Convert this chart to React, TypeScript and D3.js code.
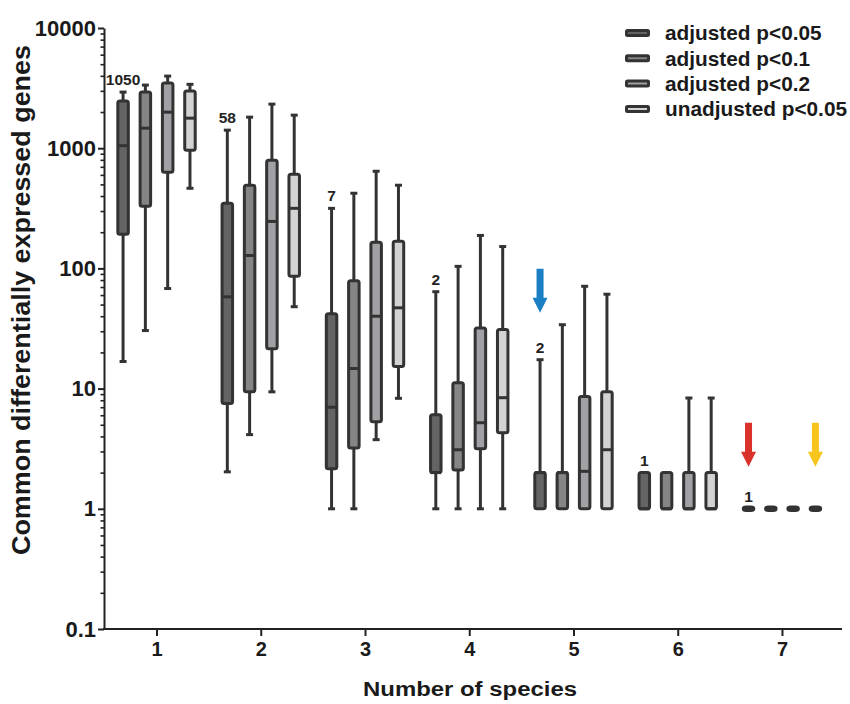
import React, { useEffect, useRef } from "react";
import * as d3 from "d3";

// Number of species sharing the differentially expressed genes
const speciesCounts = [1, 2, 3, 4, 5, 6, 7];

const seriesNames = [
  "adjusted p<0.05",
  "adjusted p<0.1",
  "adjusted p<0.2",
  "unadjusted p<0.05",
];
const seriesFills = ["#646464", "#858585", "#a1a1a5", "#d3d3d3"];

// Gene counts printed above the strictest threshold (also its medians)
const countLabels = [1050, 58, 7, 2, 2, 1, 1];

// Box summaries per species count: [min, q1, median, q3, max]
const adjustedP005 = [
  [16.8, 192, countLabels[0], 2465, 2930],
  [2.03, 7.5, countLabels[1], 348, 1413],
  [1, 2.15, countLabels[2], 42, 316],
  [1, 2, countLabels[3], 6.07, 64],
  [1, 1, countLabels[4], 2, 17.4],
  [1, 1, countLabels[5], 2, 2],
  [1, 1, countLabels[6], 1, 1],
];
const adjustedP01 = [
  [30.4, 329, 1468, 2930, 3350],
  [4.14, 9.4, 128, 492, 1813],
  [1, 3.2, 14.7, 79, 422],
  [1, 2.1, 3.1, 11.2, 104],
  [1, 1, 2, 2, 34],
  [1, 1, 1, 2, 2],
  [1, 1, 1, 1, 1],
];
const adjustedP02 = [
  [68, 631, 1995, 3480, 3980],
  [9.4, 21.5, 246, 794, 2326],
  [3.76, 5.3, 40, 165, 643],
  [1, 3.16, 5.2, 32, 188],
  [1, 1, 2.05, 8.6, 71],
  [1, 1, 1, 2, 8.35],
  [1, 1, 1, 1, 1],
];
const unadjustedP005 = [
  [464, 962, 1778, 2985, 3400],
  [48, 86, 316, 607, 1884],
  [8.3, 15.3, 47, 168, 492],
  [1, 4.3, 8.4, 31, 152],
  [1, 1, 3.1, 9.4, 61],
  [1, 1, 1, 2, 8.35],
  [1, 1, 1, 1, 1],
];
const seriesData = [adjustedP005, adjustedP01, adjustedP02, unadjustedP005];

const yTickValues = [0.1, 1, 10, 100, 1000, 10000];

// Highlight arrows: [species count, series index, colour]
const arrowSpecies = [5, 7, 7];
const arrowSeries = [0, 0, 3];
const arrowColors = ["#1b7fc4", "#d8322b", "#f7c51d"];

const FONT = "'Liberation Sans', Arial, Helvetica, sans-serif";
const INK = "#333333";

export default function App() {
  const ref = useRef<SVGSVGElement>(null);

  useEffect(() => {
    const svg = d3.select(ref.current);
    svg.selectAll("*").remove();

    const x = d3.scaleLinear().domain([0.5, 7.5]).range([104.4, 834.1]);
    const inner = d3
      .scaleBand<number>()
      .domain(d3.range(seriesNames.length))
      .range([-44.6, 44.6]);
    const y = d3.scaleLog().domain([0.1, 10000]).range([629, 28]);
    const cx = (s: number, i: number) =>
      x(s) + (inner(i) as number) + inner.bandwidth() / 2;

    const boxW = 10.5;
    const capW = 7;
    const minBoxH = 3.5;

    // Y axis: major ticks with labels, minor ticks without
    const minor = y.ticks().filter((v) => !yTickValues.includes(v));
    const yMinor = svg.append("g").attr("transform", "translate(104,0)");
    yMinor.call(
      d3.axisLeft(y).tickValues(minor).tickSize(3.5).tickSizeOuter(0).tickFormat(() => "")
    );
    yMinor.select(".domain").remove();
    yMinor.selectAll("line").attr("stroke", "#222").attr("stroke-width", 1.6);

    const yAxis = svg.append("g").attr("transform", "translate(104,0)");
    yAxis.call(
      d3
        .axisLeft(y)
        .tickValues(yTickValues)
        .tickSize(6)
        .tickSizeOuter(0)
        .tickPadding(2)
        .tickFormat((d) => d3.format("~g")(d as number))
    );
    yAxis.select(".domain").attr("stroke", "#222").attr("stroke-width", 2);
    yAxis.selectAll("line").attr("stroke", "#222").attr("stroke-width", 2);
    yAxis
      .selectAll("text")
      .attr("font-family", FONT)
      .attr("font-weight", "bold")
      .attr("font-size", 22)
      .attr("fill", "#1a1a1a");

    // X axis
    const xAxis = svg.append("g").attr("transform", "translate(0,629)");
    xAxis.call(
      d3
        .axisBottom(x)
        .tickValues(speciesCounts)
        .tickSize(7)
        .tickSizeOuter(0)
        .tickPadding(6)
        .tickFormat(d3.format("d"))
    );
    xAxis.select(".domain").remove();
    xAxis.selectAll("line").attr("stroke", "#222").attr("stroke-width", 2);
    xAxis
      .selectAll("text")
      .attr("font-family", FONT)
      .attr("font-weight", "bold")
      .attr("font-size", 20)
      .attr("fill", "#1a1a1a");
    svg
      .append("line")
      .attr("x1", 103)
      .attr("x2", 842)
      .attr("y1", 629)
      .attr("y2", 629)
      .attr("stroke", "#222")
      .attr("stroke-width", 2);

    // Axis titles
    svg
      .append("text")
      .attr("x", 470)
      .attr("y", 696)
      .attr("text-anchor", "middle")
      .attr("font-family", FONT)
      .attr("font-weight", "bold")
      .attr("font-size", 20)
      .attr("textLength", 214)
      .attr("lengthAdjust", "spacingAndGlyphs")
      .attr("fill", "#1a1a1a")
      .text("Number of species");
    svg
      .append("text")
      .attr("transform", "translate(30,300) rotate(-90)")
      .attr("text-anchor", "middle")
      .attr("font-family", FONT)
      .attr("font-weight", "bold")
      .attr("font-size", 25)
      .attr("textLength", 510)
      .attr("lengthAdjust", "spacingAndGlyphs")
      .attr("fill", "#1a1a1a")
      .text("Common differentially expressed genes");

    // Box plots
    const plot = svg.append("g");
    seriesData.forEach((rows, si) => {
      rows.forEach((r, gi) => {
        const [mn, q1, med, q3, mx] = r;
        const s = speciesCounts[gi];
        const c = cx(s, si);
        const g = plot.append("g");
        // whiskers
        if (mx > q3) {
          g.append("line")
            .attr("x1", c).attr("x2", c)
            .attr("y1", y(q3)).attr("y2", y(mx))
            .attr("stroke", INK).attr("stroke-width", 3);
          g.append("line")
            .attr("x1", c - capW / 2).attr("x2", c + capW / 2)
            .attr("y1", y(mx)).attr("y2", y(mx))
            .attr("stroke", INK).attr("stroke-width", 3);
        }
        if (mn < q1) {
          g.append("line")
            .attr("x1", c).attr("x2", c)
            .attr("y1", y(q1)).attr("y2", y(mn))
            .attr("stroke", INK).attr("stroke-width", 3);
          g.append("line")
            .attr("x1", c - capW / 2).attr("x2", c + capW / 2)
            .attr("y1", y(mn)).attr("y2", y(mn))
            .attr("stroke", INK).attr("stroke-width", 3);
        }
        const top = y(q3);
        const bot = y(q1);
        const flat = bot - top < minBoxH;
        const h = flat ? minBoxH : bot - top;
        const yTop = flat ? (top + bot) / 2 - h / 2 : top;
        g.append("rect")
          .attr("x", c - boxW / 2)
          .attr("y", yTop)
          .attr("width", boxW)
          .attr("height", h)
          .attr("rx", flat ? 3 : 2)
          .attr("fill", flat ? INK : seriesFills[si])
          .attr("stroke", INK)
          .attr("stroke-width", 3);
        g.append("line")
          .attr("x1", c - boxW / 2).attr("x2", c + boxW / 2)
          .attr("y1", y(med)).attr("y2", y(med))
          .attr("stroke", INK).attr("stroke-width", 3);
      });
    });

    // Count labels over the strictest threshold
    countLabels.forEach((n, gi) => {
      const mx = adjustedP005[gi][4];
      plot
        .append("text")
        .attr("x", cx(speciesCounts[gi], 0))
        .attr("y", y(mx) - 7)
        .attr("text-anchor", "middle")
        .attr("font-family", FONT)
        .attr("font-weight", "bold")
        .attr("font-size", 15.5)
        .attr("fill", "#222")
        .text(String(n));
    });

    // Arrows
    arrowSpecies.forEach((s, k) => {
      const si = arrowSeries[k];
      const mx = seriesData[si][s - 1][4];
      const c = cx(s, si);
      const tip = y(mx) - (mx > 1.5 ? 47 : 42);
      const len = 44;
      const head = 15;
      const shaft = 7;
      const headW = 15;
      const p = d3.path();
      p.moveTo(c - shaft / 2, tip - len);
      p.lineTo(c + shaft / 2, tip - len);
      p.lineTo(c + shaft / 2, tip - head);
      p.lineTo(c + headW / 2, tip - head);
      p.lineTo(c, tip);
      p.lineTo(c - headW / 2, tip - head);
      p.lineTo(c - shaft / 2, tip - head);
      p.closePath();
      svg.append("path").attr("d", p.toString()).attr("fill", arrowColors[k]);
    });

    // Legend
    const legend = svg.append("g");
    seriesNames.forEach((name, i) => {
      const ly = 33 + i * 25.3;
      legend
        .append("rect")
        .attr("x", 626.5)
        .attr("y", ly - 2.5)
        .attr("width", 22)
        .attr("height", 5)
        .attr("rx", 1)
        .attr("fill", seriesFills[i])
        .attr("stroke", INK)
        .attr("stroke-width", 3);
      legend
        .append("text")
        .attr("x", 665)
        .attr("y", ly)
        .attr("dy", "0.35em")
        .attr("font-family", FONT)
        .attr("font-weight", "bold")
        .attr("font-size", 20.8)
        .attr("fill", "#1a1a1a")
        .text(name);
    });
  }, []);

  return (
    <svg
      ref={ref}
      width={850}
      height={704}
      style={{ position: "absolute", left: 0, top: 0, background: "#fff" }}
    />
  );
}
